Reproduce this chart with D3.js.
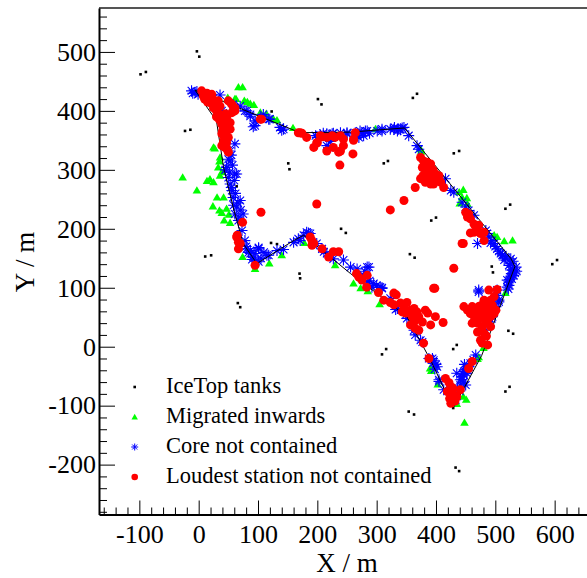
<!DOCTYPE html>
<html><head><meta charset="utf-8">
<script src="https://cdn.jsdelivr.net/npm/d3@7"></script>
<style>html,body{margin:0;background:#fff;overflow:hidden}svg{display:block;overflow:hidden}text{font-family:"Liberation Serif","Times New Roman",serif}</style>
</head><body>
<script>
const xTicks=[-100,0,100,200,300,400,500,600];
const yTicks=[-200,-100,0,100,200,300,400,500];
const legendLabels=["IceTop tanks","Migrated inwards","Core not contained","Loudest station not contained"];
const tanks=[[-3,501],[1,492],[-98,462],[-89,466],[-23,366],[-14,368],[11,153],[21,155],[64,272],[123,399],
[151,311],[153,301],[201,420],[207,411],[361,422],[368,429],[312,311],[319,315],[430,328],[439,332],
[392,214],[400,219],[356,157],[364,151],[517,234],[525,241],[596,140],[604,147],[122,176],[132,174],
[240,200],[248,193],[494,136],[496,126],[170,124],[171,116],[66,74],[70,67],[522,27],[530,22],
[309,-13],[316,-4],[429,-4],[435,3],[517,-76],[524,-68],[354,-110],[363,-115],[433,-205],[439,-211],[429,-104]];
const contour=[[-6,435],[30,383],[42,304],[58,237],[75,175],[98,141],[160,180],[177,189],[256,124],[301,90],
[351,51],[391,-23],[429,-104],[477,-15],[520,101],[533,136],[526,150],[347,371],[256,364],[171,363],[-6,435]];
const migrated=[[67,440],[74,440],[49,422],[63,420],[77,417],[82,415],[87,412],[93,410],[61,420],[104,397],[114,395],[126,386],[132,384],[159,371],
[27,336],[25,338],[36,321],[35,314],[33,304],[39,296],[36,290],[-27,287],[19,284],[14,281],[25,279],[-3,265],[31,253],[42,253],[24,238],[35,231],[39,227],[47,234],[51,224],[43,214],[53,210],
[74,152],[119,141],[140,155],[95,132],[178,176],[230,138],[261,107],[273,99],[285,94],[305,72],
[298,369],[374,335],[375,331],[439,262],[440,243],[446,266],[444,253],[452,252],[453,242],[498,189],[503,186],[515,179],[529,180],
[517,91],[480,-2],[472,-18],[470,-21],[446,-85],[451,-90],[448,-129],[390,-37],[392,-41],[403,-64],[435,-97]];
const coreOut=[[-12,434],[-6,431],[-1,428],[-10,430],[-3,433],
[25,422],[36,427],[58,411],[70,408],[81,400],[87,391],[95,375],[109,394],[120,386],[137,372],[143,369],[78,400],[87,394],[92,373],[95,383],[104,388],[118,386],[140,367],
[197,358],[205,359],[216,361],[219,338],[227,362],[239,363],[250,363],[216,341],[225,361],[250,361],[267,358],[275,363],[284,366],[301,366],[309,369],[323,369],[337,369],[346,372],[354,358],[368,341],[264,363],[278,358],[281,366],[309,366],[329,369],[343,371],[371,335],
[330,372],[340,368],[335,366],[270,355],[288,362],[272,366],[200,355],[210,362],[222,348],
[416,285],[425,265],[430,262],[444,245],[450,237],[455,231],[464,223],[470,175],[484,197],[489,186],[498,175],[503,166],[509,158],[517,152],[526,149],
[486,192],[494,180],[500,170],[506,162],[512,156],[492,176],
[515,147],[523,138],[526,130],[531,121],[520,113],[523,104],[526,141],[529,130],[526,118],[523,110],[520,101],
[518,150],[530,145],[535,135],[533,125],[528,115],[522,98],[512,155],[536,128],[527,124],[524,114],
[472,93],[503,87],[506,76],[498,68],[495,51],[492,42],[484,28],[467,-14],[455,-34],[450,-39],[447,-48],[444,-56],[441,-65],[472,96],[503,96],[506,79],[501,68],
[445,-45],[452,-40],[458,-28],[463,-22],
[405,-56],[413,-73],[430,-82],[436,-70],[441,-56],[444,-51],[447,-42],[453,-37],[435,-45],[427,-82],[433,-90],
[446,-60],[450,-65],[440,-75],[448,-30],[452,-45],
[284,135],[278,121],[295,107],[309,99],[332,63],[351,48],[365,20],[374,11],[394,-20],[402,-34],[405,-59],[292,101],[309,100],[323,82],[335,65],[349,54],[363,28],[377,8],[388,-20],[396,-23],
[280,128],[288,112],[300,104],[395,-28],[400,-30],[398,-38],
[75,225],[73,197],[78,180],[87,163],[101,168],[118,155],[132,163],[143,165],[160,177],[168,183],[177,189],[185,193],[199,175],[208,166],[216,158],[227,149],[171,180],[182,194],[188,192],[211,161],[244,147],[256,135],[267,132],[287,135],[284,110],[306,101],
[84,160],[90,148],[96,145],[105,150],[110,160],[80,170],[95,158],
[33,405],[39,400],[47,394],[61,344],[53,332],[53,315],[47,304],[61,293],[50,287],[53,276],[56,265],[58,253],[70,248],[64,237],[61,225],[67,214],[81,166],[87,158],[92,152],[101,166],[115,155],[101,144],[64,293],[45,300],
[55,325],[50,318],[57,308],[52,296],[60,282],[55,270],[62,260],[66,244],[59,240],[71,232],[68,220]];
const loudestOut=[[5,434],[8,425],[22,428],[25,417],[19,414],[33,417],[36,408],[50,417],[58,408],[61,400],[56,397],[30,400],[25,405],[36,394],[42,389],[47,389],[53,380],[44,380],[39,377],[42,369],[47,366],[53,369],[39,361],[44,355],[50,355],[42,349],[47,346],[39,341],[44,338],[50,330],[22,425],[61,405],[104,386],[106,386],[168,363],
[10,420],[15,415],[28,410],[30,390],[35,385],[45,395],[48,372],[40,365],[45,345],[48,335],[55,412],[14,430],
[64,186],[67,177],[67,166],[105,228],[74,211],[65,189],[70,175],[95,138],
[171,363],[182,355],[205,358],[216,355],[225,358],[230,355],[239,358],[244,352],[194,338],[199,346],[216,332],[227,338],[236,330],[239,332],[244,341],[261,352],[264,363],[260,327],[238,308],[199,242],[174,362],[200,346],[208,356],[261,350],
[323,232],[346,248],[446,175],[430,133],[398,99],[503,97],
[374,321],[379,315],[385,313],[391,310],[382,301],[377,304],[388,298],[394,296],[399,293],[405,290],[385,293],[391,287],[396,285],[402,282],[408,279],[413,270],[374,285],[382,279],[391,276],[365,270],[396,276],
[380,305],[387,305],[395,300],[400,286],[405,284],[398,280],[385,282],[378,290],
[450,228],[455,225],[453,220],[458,217],[464,208],[472,206],[470,197],[464,194],[458,193],[475,192],[481,194],[481,180],[444,175],
[188,186],[191,180],[194,175],[191,172],[208,166],[227,161],[236,161],[219,152],
[266,124],[270,118],[275,113],[284,121],[283,101],[303,92],[312,79],[329,91],[333,88],[323,75],[329,71],[340,74],[346,68],[351,75],[343,59],[349,57],[357,62],[363,65],[368,59],[360,51],[365,48],[371,51],[377,42],[363,42],[357,37],[365,31],[371,28],[382,62],[386,57],[391,37],[399,51],[412,41],[396,99],[379,6],[388,-20],
[416,-54],[422,-61],[425,-68],[419,-76],[428,-79],[430,-87],[425,-96],[435,-85],[441,-73],[423,-88],[432,-92],[428,-70],
[447,68],[453,62],[461,68],[458,56],[467,59],[472,68],[475,56],[481,51],[481,79],[487,73],[492,79],[498,85],[489,96],[492,62],[487,51],[461,40],[470,40],[478,34],[487,40],[492,51],[481,23],[475,11],[478,6],[487,3],[492,34],[498,56],[461,-25],[455,-37],[501,62],
[465,50],[470,48],[483,45],[476,70],[484,62],[489,58],[495,70],[470,25],[485,18]];

const W=587,H=578;
const svg=d3.select("body").append("svg").attr("width",W).attr("height",H);
const x=d3.scaleLinear().domain([-168,700]).range([99,99+868*0.5933]);
const y=d3.scaleLinear().domain([-284.6,574.5]).range([514.5,8]);

const starPath="M-5.5,0H5.5M0,-5.5V5.5M-3.9,-3.9L3.9,3.9M-3.9,3.9L3.9,-3.9";
const triPath="M0,-4.3L4.3,3L-4.3,3Z";

const plot=svg.append("g");
plot.selectAll("rect.tank").data(tanks).join("rect").attr("class","tank")
 .attr("x",d=>x(d[0])-1.3).attr("y",d=>y(d[1])-1.3).attr("width",2.6).attr("height",2.6).attr("fill","#000");
plot.selectAll("path.mig").data(migrated).join("path").attr("class","mig")
 .attr("d",triPath).attr("transform",d=>`translate(${x(d[0])},${y(d[1])})`).attr("fill","#00ff00");
plot.selectAll("path.core").data(coreOut).join("path").attr("class","core")
 .attr("d",starPath).attr("transform",d=>`translate(${x(d[0])},${y(d[1])})`).attr("fill","none").attr("stroke","#0000ff").attr("stroke-width",1.1);
plot.append("path").datum(contour).attr("d",d3.line().x(d=>x(d[0])).y(d=>y(d[1])))
 .attr("fill","none").attr("stroke","#000").attr("stroke-width",1);
plot.selectAll("circle.loud").data(loudestOut).join("circle").attr("class","loud")
 .attr("cx",d=>x(d[0])).attr("cy",d=>y(d[1])).attr("r",4.5).attr("fill","#ff0000");

// frame top
svg.append("line").attr("x1",99).attr("x2",W).attr("y1",8).attr("y2",8).attr("stroke","#555").attr("stroke-width",2);

// axes (x axis limited to the visible width)
const fmt=d=>String(d);
const xv=d3.scaleLinear().domain([-168,x.invert(W)]).range([99,W]);
const xMinor=d3.range(-160,650,20).filter(v=>!xTicks.includes(v));
const yMinor=d3.range(-280,571,20).filter(v=>!yTicks.includes(v));
const gx=svg.append("g").attr("transform","translate(0,514.5)");
gx.call(d3.axisBottom(xv).tickValues(xMinor).tickSize(-7).tickSizeOuter(0).tickFormat(""));
gx.call(g=>g.select(".domain").remove());
gx.selectAll("text").remove();
const gx2=svg.append("g").attr("transform","translate(0,514.5)");
gx2.call(d3.axisBottom(xv).tickValues(xTicks).tickSize(-14).tickSizeOuter(0).tickPadding(10).tickFormat(fmt));
gx2.select(".domain").attr("stroke-width",2);
gx2.selectAll("text").attr("font-size",26).attr("fill","#000").style("font-family",'"Liberation Serif",serif');
const gy=svg.append("g").attr("transform","translate(99,0)");
gy.call(d3.axisLeft(y).tickValues(yMinor).tickSize(-8).tickSizeOuter(0).tickFormat(""));
gy.call(g=>g.select(".domain").remove());
gy.selectAll("text").remove();
const gy2=svg.append("g").attr("transform","translate(99,0)");
gy2.call(d3.axisLeft(y).tickValues(yTicks).tickSize(-16).tickSizeOuter(0).tickPadding(3).tickFormat(fmt));
gy2.select(".domain").attr("stroke-width",2);
gy2.selectAll("text").attr("font-size",26).attr("fill","#000").style("font-family",'"Liberation Serif",serif');

svg.append("text").attr("x",347).attr("y",572).attr("text-anchor","middle").attr("font-size",27).text("X / m");
svg.append("text").attr("transform","translate(34,262) rotate(-90)").attr("text-anchor","middle").attr("font-size",27).text("Y / m");

// legend
const lg=svg.append("g");
const ly=[387,417,447,477];
lg.append("rect").attr("x",134.7-1.3).attr("y",ly[0]-1.3).attr("width",2.6).attr("height",2.6).attr("fill","#000");
lg.append("path").attr("d","M0,-3.2L3.2,2.4L-3.2,2.4Z").attr("transform",`translate(134.7,${ly[1]})`).attr("fill","#00ff00");
lg.append("path").attr("d","M-3.5,0H3.5M0,-3.5V3.5M-2.5,-2.5L2.5,2.5M-2.5,2.5L2.5,-2.5").attr("transform",`translate(134.7,${ly[2]})`).attr("stroke","#0000ff").attr("fill","none");
lg.append("circle").attr("cx",134.7).attr("cy",ly[3]).attr("r",3.3).attr("fill","#ff0000");
lg.selectAll("text.leg").data(legendLabels).join("text").attr("class","leg").attr("x",166).attr("y",(d,i)=>ly[i]+6).attr("font-size",22.5).text(d=>d);
</script>
</body></html>
